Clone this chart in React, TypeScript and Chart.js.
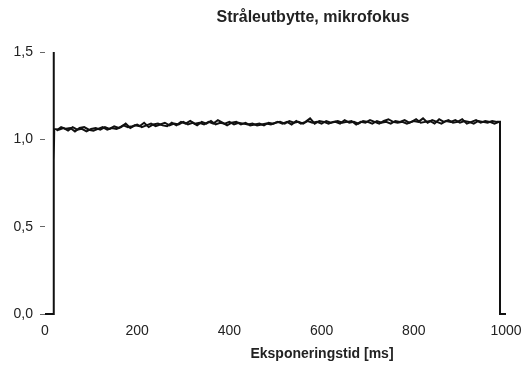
import React, { useEffect, useRef } from "react";
import { Chart, registerables } from "chart.js";

Chart.register(...registerables);

const chartTitle = "Stråleutbytte, mikrofokus";
const xAxisTitle = "Eksponeringstid [ms]";
const yTickLabels = ["0,0", "0,5", "1,0", "1,5"];
const xTickValues = [0, 200, 400, 600, 800, 1000];

// Trace A (includes switch-on spike and switch-off drop)
const timesA = [
  0, 19, 19, 19, 20, 30, 40, 50, 60, 70, 80, 90, 100, 110, 120, 130, 140, 150, 160, 170, 180, 190,
  200, 210, 220, 230, 240, 250, 260, 270, 280, 290, 300, 310, 320, 330, 340, 350, 360, 370, 380,
  390, 400, 410, 420, 430, 440, 450, 460, 470, 480, 490, 500, 510, 520, 530, 540, 550, 560, 570,
  580, 590, 600, 610, 620, 630, 640, 650, 660, 670, 680, 690, 700, 710, 720, 730, 740, 750, 760,
  770, 780, 790, 800, 810, 820, 830, 840, 850, 860, 870, 880, 890, 900, 910, 920, 930, 940, 950,
  960, 970, 980, 987, 987, 1000,
];

const valuesA = [
  0, 0, 1.5, 0.88, 1.06, 1.055, 1.065, 1.05, 1.07, 1.055, 1.06, 1.045, 1.06, 1.065, 1.055, 1.07,
  1.06, 1.075, 1.065, 1.08, 1.07, 1.075, 1.085, 1.07, 1.08, 1.09, 1.075, 1.085, 1.095, 1.08, 1.09,
  1.085, 1.1, 1.085, 1.095, 1.08, 1.1, 1.09, 1.105, 1.085, 1.095, 1.09, 1.1, 1.085, 1.095, 1.09,
  1.085, 1.09, 1.08, 1.085, 1.09, 1.085, 1.095, 1.1, 1.09, 1.105, 1.095, 1.1, 1.09, 1.105, 1.095,
  1.1, 1.09, 1.105, 1.095, 1.1, 1.09, 1.11, 1.095, 1.1, 1.09, 1.105, 1.1, 1.09, 1.105, 1.095, 1.1,
  1.09, 1.105, 1.1, 1.11, 1.095, 1.105, 1.1, 1.12, 1.095, 1.11, 1.1, 1.09, 1.105, 1.1, 1.11, 1.095,
  1.105, 1.1, 1.09, 1.105, 1.1, 1.095, 1.105, 1.1, 1.1, 0, 0,
];

// Trace B (second overlapping measurement)
const timesB = [
  25, 35, 45, 55, 65, 75, 85, 95, 105, 115, 125, 135, 145, 155, 165, 175, 185, 195, 205, 215, 225,
  235, 245, 255, 265, 275, 285, 295, 305, 315, 325, 335, 345, 355, 365, 375, 385, 395, 405, 415,
  425, 435, 445, 455, 465, 475, 485, 495, 505, 515, 525, 535, 545, 555, 565, 575, 585, 595, 605,
  615, 625, 635, 645, 655, 665, 675, 685, 695, 705, 715, 725, 735, 745, 755, 765, 775, 785, 795,
  805, 815, 825, 835, 845, 855, 865, 875, 885, 895, 905, 915, 925, 935, 945, 955, 965, 975, 985,
];

const valuesB = [
  1.05, 1.07, 1.06, 1.065, 1.045, 1.065, 1.07, 1.055, 1.05, 1.06, 1.07, 1.055, 1.065, 1.06, 1.07,
  1.09, 1.065, 1.08, 1.075, 1.095, 1.07, 1.085, 1.09, 1.08, 1.075, 1.095, 1.08, 1.1, 1.09, 1.105,
  1.09, 1.095, 1.085, 1.1, 1.09, 1.11, 1.095, 1.08, 1.095, 1.1, 1.085, 1.095, 1.08, 1.085, 1.09,
  1.08, 1.095, 1.09, 1.1, 1.09, 1.1, 1.085, 1.105, 1.09, 1.1, 1.12, 1.09, 1.105, 1.1, 1.09, 1.1,
  1.105, 1.095, 1.1, 1.105, 1.085, 1.1, 1.095, 1.11, 1.1, 1.09, 1.105, 1.115, 1.1, 1.095, 1.1, 1.09,
  1.1, 1.115, 1.095, 1.1, 1.105, 1.09, 1.115, 1.1, 1.11, 1.095, 1.1, 1.115, 1.09, 1.1, 1.11, 1.095,
  1.105, 1.1, 1.09, 1.1,
];

const FONT = "'Liberation Sans', Arial, Helvetica, sans-serif";
const TEXT = "#222";

const titlesPlugin = {
  id: "titlesPlugin",
  afterDraw(chart: any) {
    const ctx = chart.ctx;
    ctx.save();
    ctx.fillStyle = TEXT;
    ctx.textAlign = "center";
    ctx.textBaseline = "middle";
    ctx.font = `bold 16px ${FONT}`;
    ctx.fillText(chartTitle, 313, 18);
    ctx.font = `bold 14px ${FONT}`;
    ctx.fillText(xAxisTitle, 322, 354);
    ctx.restore();
  },
};

export default function App() {
  const ref = useRef<HTMLCanvasElement>(null);
  useEffect(() => {
    if (!ref.current) return;
    const pointsA = timesA.map((t, i) => ({ x: t, y: valuesA[i] }));
    const pointsB = timesB.map((t, i) => ({ x: t, y: valuesB[i] }));
    const chart = new Chart(ref.current, {
      type: "line",
      data: {
        datasets: [
          {
            data: pointsA,
            borderColor: "#111",
            borderWidth: 2,
            pointRadius: 0,
            tension: 0,
            fill: false,
            clip: false as any,
          },
          {
            data: pointsB,
            borderColor: "#111",
            borderWidth: 2,
            pointRadius: 0,
            tension: 0,
            fill: false,
            clip: false as any,
          },
        ],
      },
      options: {
        animation: false,
        responsive: false,
        maintainAspectRatio: false,
        layout: { padding: { top: 52, right: 21, bottom: 0, left: 0 } },
        plugins: { legend: { display: false }, title: { display: false }, tooltip: { enabled: false } },
        scales: {
          x: {
            type: "linear",
            min: 0,
            max: 1000,
            afterBuildTicks: (s: any) => {
              s.ticks = xTickValues.map((v) => ({ value: v }));
            },
            afterFit: (s: any) => {
              s.height = 59;
              s.paddingLeft = 0;
              s.paddingRight = 0;
            },
            grid: { display: false },
            border: { display: false },
            ticks: {
              color: TEXT,
              font: { family: FONT, size: 14 },
              padding: 1,
              maxRotation: 0,
              callback: (v: any) => String(v),
            },
          },
          y: {
            type: "linear",
            min: 0,
            max: 1.5,
            afterBuildTicks: (s: any) => {
              s.ticks = [0, 0.5, 1, 1.5].map((v) => ({ value: v }));
            },
            afterFit: (s: any) => {
              s.width = 45;
              s.paddingTop = 0;
              s.paddingBottom = 0;
            },
            grid: {
              display: true,
              drawOnChartArea: false,
              drawTicks: true,
              tickLength: 5,
              color: "#666",
            },
            border: { display: false },
            ticks: {
              color: TEXT,
              font: { family: FONT, size: 14 },
              padding: 7,
              callback: (_v: any, i: number) => yTickLabels[i],
            },
          },
        },
      },
      plugins: [titlesPlugin],
    });
    return () => chart.destroy();
  }, []);
  return (
    <div style={{ position: "fixed", left: 0, top: 0, width: 527, height: 373, background: "#fff" }}>
      <canvas ref={ref} width={527} height={373} style={{ width: 527, height: 373, display: "block" }} />
    </div>
  );
}
